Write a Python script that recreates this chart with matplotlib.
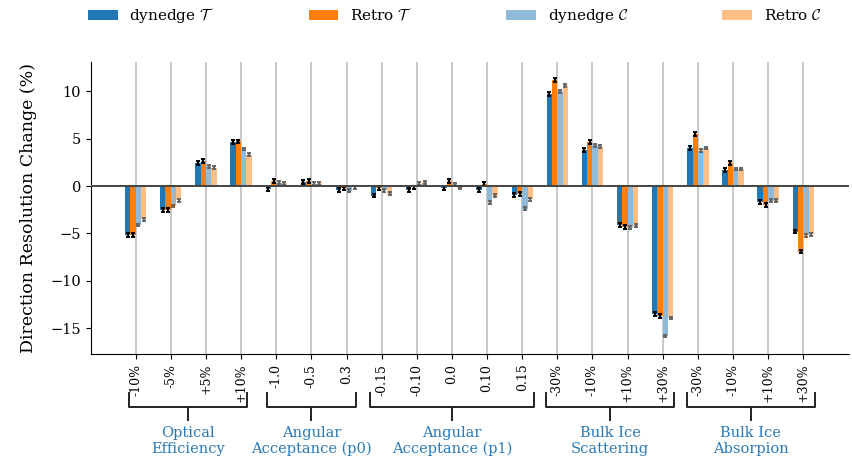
import numpy as np
import matplotlib
matplotlib.use("Agg")
import matplotlib.pyplot as plt
import matplotlib.transforms as mtransforms

plt.rcParams["font.family"] = ["DejaVu Serif"]
plt.rcParams["mathtext.fontset"] = "cm"

# x tick labels (systematic variations)
tick_labels = ["-10%", "-5%", "+5%", "+10%",
               "-1.0", "-0.5", "0.3",
               "-0.15", "-0.10", "0.0", "0.10", "0.15",
               "-30%", "-10%", "+10%", "+30%",
               "-30%", "-10%", "+10%", "+30%"]

# change in direction resolution (%) per variation
dynedge_T = [-5.2, -2.5, 2.4, 4.6,
             -0.3, 0.45, -0.4,
             -1.0, -0.45, -0.2, -0.4, -0.95,
             9.7, 3.8, -4.1, -13.5,
             4.0, 1.7, -1.7, -4.8]
retro_T = [-5.2, -2.5, 2.6, 4.7,
           0.5, 0.55, -0.25,
           -0.2, -0.15, 0.5, 0.2, -0.8,
           11.2, 4.6, -4.3, -13.7,
           5.5, 2.4, -2.0, -6.9]
dynedge_C = [-4.1, -2.1, 2.1, 3.9,
             0.35, 0.25, -0.5,
             -0.45, 0.25, 0.2, -1.7, -2.4,
             10.0, 4.3, -4.4, -15.8,
             3.7, 1.8, -1.55, -5.2]
retro_C = [-3.5, -1.5, 1.95, 3.3,
           0.3, 0.3, -0.15,
           -0.8, 0.4, -0.2, -1.0, -1.4,
           10.6, 4.2, -4.2, -13.9,
           4.0, 1.8, -1.55, -5.1]

# statistical uncertainties
err_dynedge_T = [0.2] * 20
err_retro_T = [0.2] * 20
err_dynedge_C = [0.15] * 20
err_retro_C = [0.15] * 20

# group names and the tick ranges they span
group_names = ["Optical\nEfficiency", "Angular\nAcceptance (p0)",
               "Angular\nAcceptance (p1)", "Bulk Ice\nScattering",
               "Bulk Ice\nAbsorpion"]
group_first = [0, 4, 7, 12, 16]
group_last = [3, 6, 11, 15, 19]
# how far each bracket reaches past its first/last tick (data units)
bracket_pad = [0.18, 0.27, 0.33, 0.31, 0.32]

series = [
    ("dynedge $\\mathcal{T}$", dynedge_T, err_dynedge_T, "#1f77b4", "black"),
    ("Retro $\\mathcal{T}$", retro_T, err_retro_T, "#ff7f0e", "black"),
    ("dynedge $\\mathcal{C}$", dynedge_C, err_dynedge_C, "#8fbbd9", "#666666"),
    ("Retro $\\mathcal{C}$", retro_C, err_retro_C, "#ffbf86", "#666666"),
]

W, H = 852, 461
fig = plt.figure(figsize=(W / 100, H / 100), dpi=100)
ax = fig.add_axes([90.7 / W, 1 - 354 / H, (849 - 90.7) / W, (354 - 62) / H])

x = np.arange(len(tick_labels))
width = 0.152
offsets = [-1.5, -0.5, 0.5, 1.5]

handles = []
for (label, vals, errs, color, ecolor), off in zip(series, offsets):
    b = ax.bar(x + off * width, vals, width, color=color, label=label,
               zorder=3)
    ax.errorbar(x + off * width, vals, yerr=errs, fmt="none", ecolor=ecolor,
                elinewidth=1.6, capsize=1.2, capthick=1.4, zorder=4)
    handles.append(b)

ax.axhline(0, color="#444444", linewidth=1.4, zorder=5)

ax.set_xticks(x)
ax.set_xticklabels(tick_labels, rotation=90, fontsize=9)
ax.tick_params(axis="y", labelsize=10.5)
ax.set_xlim(-1.28, 20.3)
ax.set_ylim(-17.7, 13.07)
ax.set_yticks([-15, -10, -5, 0, 5, 10])
ax.grid(axis="x", color="#c4c4c4", linewidth=1.3, zorder=0)
ax.set_axisbelow(True)
for s in ("top", "right"):
    ax.spines[s].set_visible(False)

ax.set_ylabel("Direction Resolution Change (%)", fontsize=12.5)
ax.yaxis.set_label_coords(-0.071, 0.5)

# group brackets under the tick labels
trans = mtransforms.blended_transform_factory(ax.transData, ax.transAxes)
y_top = (354 - 393.3) / 292
y_mid = (354 - 406.7) / 292
y_low = (354 - 420) / 292
y_txt = (354 - 441) / 292
for name, a, b, pad in zip(group_names, group_first, group_last, bracket_pad):
    x0, x1 = a - pad, b + pad
    xc = (a + b) / 2
    ax.plot([x0, x0, x1, x1], [y_top, y_mid, y_mid, y_top], color="#222222",
            linewidth=1.4, transform=trans, clip_on=False)
    ax.plot([xc, xc], [y_mid, y_low], color="#222222", linewidth=1.4,
            transform=trans, clip_on=False)
    ax.text(xc, y_txt, name, transform=trans, ha="center", va="center",
            fontsize=10.5, color="#2a7ab8", linespacing=1.15)

fig.legend(handles=handles, loc="upper left", ncol=4, frameon=False,
           bbox_to_anchor=(88 / W, 1 - 6 / H), fontsize=11,
           borderpad=0, borderaxespad=0, handlelength=1.95,
           handleheight=0.65, handletextpad=0.75, columnspacing=6.15)

fig.savefig("out.png", dpi=100)
